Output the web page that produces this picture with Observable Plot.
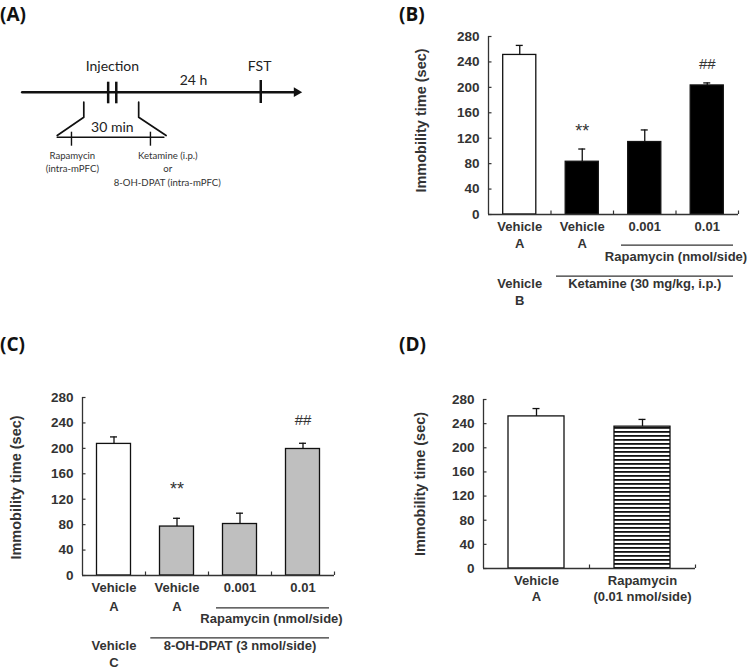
<!DOCTYPE html>
<html><head><meta charset="utf-8">
<script src="https://cdn.jsdelivr.net/npm/d3@7"></script>
<script src="https://cdn.jsdelivr.net/npm/@observablehq/plot@0.6"></script>
<style>
body{margin:0;background:#fff}
#fig{position:relative;width:752px;height:671px;background:#fff;overflow:hidden}
.panel{position:absolute}
.plabel{position:absolute;font-family:"Open Sans",sans-serif;font-weight:bold;font-size:19px;color:#111;line-height:1}
</style></head><body>
<svg width="0" height="0" style="position:absolute"><defs>
<pattern id="hstripes" patternUnits="userSpaceOnUse" width="8" height="4"><rect width="8" height="4" fill="#ffffff"/><rect width="8" height="1.8" fill="#111111"/></pattern>
</defs></svg>
<div id="fig"></div>
<script>
// ---------- data ----------
const yTicks = [0, 40, 80, 120, 160, 200, 240, 280];
const yTitle = "Immobility time (sec)";

// Panel B
const meansB = [251, 83, 114, 203];
const semsB = [15, 20, 19, 4];
const fillsB = ["#ffffff", "#000000", "#000000", "#000000"];
const line1B = ["Vehicle", "Vehicle", "0.001", "0.01"];
const line2B = ["A", "A", "", ""];
const sigB = ["", "**", "", "##"];
const groupsB = [
  {text: "Rapamycin (nmol/side)", from: 2, to: 4, level: 0},
  {text: "Ketamine (30 mg/kg, i.p.)", from: 1, to: 4, level: 1}
];
const baseB = ["Vehicle", "B"];

// Panel C
const meansC = [207, 77, 81, 199];
const semsC = [11, 13, 17, 9];
const fillsC = ["#ffffff", "#bfbfbf", "#bfbfbf", "#bfbfbf"];
const line1C = ["Vehicle", "Vehicle", "0.001", "0.01"];
const line2C = ["A", "A", "", ""];
const sigC = ["", "**", "", "##"];
const groupsC = [
  {text: "Rapamycin (nmol/side)", from: 2, to: 4, level: 0},
  {text: "8-OH-DPAT (3 nmol/side)", from: 1, to: 4, level: 1}
];
const baseC = ["Vehicle", "C"];

// Panel D
const meansD = [252, 235];
const semsD = [13, 12];
const fillsD = ["#ffffff", "url(#hstripes)"];
const line1D = ["Vehicle", "Rapamycin"];
const line2D = ["A", "(0.01 nmol/side)"];

// Panel A (schematic, timeline units)
const mainAxis = [{x: 0, y: 0}, {x: 97, y: 0}];
const arrowHead = [{x: 98, y: 0}];
const injectionTicks = [30.7, 33.6];
const fstTick = [85.2];
const brackets = [
  {id: "L", x: 22, y: 10}, {id: "L", x: 22, y: 25}, {id: "L", x: 12.5, y: 43.3},
  {id: "R", x: 41.6, y: 10}, {id: "R", x: 41.6, y: 25}, {id: "R", x: 51.4, y: 43.3}
];
const intervalLine = [{x: 12.5, y: 45}, {x: 50.6, y: 45}];
const intervalTicks = [17.6, 45.8];
const bigLabels = [
  {text: "Injection", x: 32.2, y: -26},
  {text: "FST", x: 84.8, y: -26},
  {text: "24 h", x: 61.2, y: -11.5},
  {text: "30 min", x: 32.2, y: 35}
];
const smallLabels = [
  {text: "Rapamycin", x: 17.9, y: 63.3},
  {text: "(intra-mPFC)", x: 17.9, y: 76.6},
  {text: "Ketamine (i.p.)", x: 52, y: 63.3},
  {text: "or", x: 52, y: 76.6},
  {text: "8-OH-DPAT (intra-mPFC)", x: 51.8, y: 91}
];

// ---------- drawing ----------
const fig = document.getElementById("fig");
const chartFont = {fontFamily: "'Liberation Sans', Arial, sans-serif", fontSize: "13px", fontWeight: "bold", color: "#333", background: "none", overflow: "visible"};

function place(el, left, top) {
  const d = document.createElement("div");
  d.className = "panel";
  d.style.left = left + "px";
  d.style.top = top + "px";
  d.appendChild(el);
  fig.appendChild(d);
}
function panelLabel(text, left, top) {
  const d = document.createElement("div");
  d.className = "plabel";
  d.style.left = left + "px";
  d.style.top = top + "px";
  d.textContent = text;
  fig.appendChild(d);
}

const sigStyle = {"**": {size: 18, dy: 0}, "##": {size: 15, dy: 0}};

function barPanel(o) {
  const n = o.means.length, idx = d3.range(n);
  const marks = [
    Plot.rect(idx, {x1: i => i, x2: i => i + 1, y1: 0, y2: i => o.means[i], fill: i => o.fills[i], stroke: "#111", strokeWidth: 1.3, insetLeft: o.inset, insetRight: o.inset}),
    Plot.ruleX(idx, {x: i => i + 0.5, y1: i => o.means[i], y2: i => o.means[i] + o.sems[i], stroke: "#111", strokeWidth: 1.3}),
    Plot.ruleY(idx, {y: i => o.means[i] + o.sems[i], x1: i => i + 0.5, x2: i => i + 0.5, insetLeft: -3.5, insetRight: -3.5, stroke: "#111", strokeWidth: 1.3}),
    Plot.ruleX([0], {stroke: "#333", strokeWidth: 1.3}),
    Plot.ruleY([0], {stroke: "#333", strokeWidth: 1.3}),
    Plot.ruleY(yTicks, {y: d => d, x1: 0, x2: 0, insetRight: -3.5, stroke: "#333", strokeWidth: 1.2}),
    Plot.ruleX(d3.range(1, n + 1), {x: d => d, y1: 0, y2: 0, insetTop: -3.5, stroke: "#333", strokeWidth: 1.2}),
    Plot.text(yTicks, {y: d => d, text: d => String(d), frameAnchor: "left", textAnchor: "end", dx: -9, fontSize: 13.5}),
    Plot.text([yTitle], {frameAnchor: "left", textAnchor: "middle", rotate: -90, dx: -o.titleDx, dy: o.titleDy, fontSize: 14.5}),
    Plot.text(idx, {x: i => i + 0.5, text: i => o.line1[i], frameAnchor: "bottom", dy: o.l1dy}),
    Plot.text(idx, {x: i => i + 0.5, text: i => o.line2[i], frameAnchor: "bottom", dy: o.l2dy})
  ];
  if (o.sig) {
    o.sigKinds.forEach((kind, k) => {
      const ii = idx.filter(i => o.sig[i] === kind);
      marks.push(Plot.text(ii, {x: i => i + 0.5, y: i => o.means[i] + o.sems[i], text: i => o.sig[i], dy: o.sigDy[k], fontWeight: "normal", fontSize: sigStyle[kind].size, fill: "#333"}));
    });
  }
  if (o.groups) {
    o.levels.forEach((lv, k) => {
      const g = o.groups.filter(d => d.level === k);
      marks.push(Plot.ruleY(g, {y: () => 0, x1: d => d.from, x2: d => d.to, insetLeft: lv.insetLeft, insetRight: 5, dy: lv.lineDy, stroke: "#333", strokeWidth: 1.2}));
      marks.push(Plot.text(g, {x: d => (d.from + d.to) / 2, text: "text", frameAnchor: "bottom", dy: lv.textDy}));
    });
    marks.push(Plot.text([o.base[0]], {x: 0.5, frameAnchor: "bottom", dy: o.baseDy[0]}));
    marks.push(Plot.text([o.base[1]], {x: 0.5, frameAnchor: "bottom", dy: o.baseDy[1]}));
  }
  return Plot.plot({
    width: o.width, height: o.height,
    marginLeft: 80, marginTop: 16, marginRight: o.marginRight, marginBottom: o.marginBottom,
    x: {domain: [0, n], axis: null},
    y: {domain: [0, 280], axis: null},
    color: {type: "identity"},
    style: chartFont,
    marks
  });
}

// Panel A
const schematic = Plot.plot({
  width: 376, height: 200, margin: 0,
  x: {domain: [0, 100], range: [21.7, 301.7], axis: null},
  y: {domain: [-30, 100], range: [61.7, 191.7], axis: null},
  style: {fontFamily: "Lato, 'Open Sans', sans-serif", background: "none", color: "#222", overflow: "visible"},
  marks: [
    Plot.line(mainAxis, {x: "x", y: "y", stroke: "#111", strokeWidth: 2.5}),
    Plot.dot(arrowHead, {x: "x", y: "y", symbol: "triangle", rotate: 90, r: 3.6, fill: "#111", stroke: "none"}),
    Plot.ruleX(injectionTicks, {x: d => d, y1: -10, y2: 11.6, stroke: "#111", strokeWidth: 2.5}),
    Plot.ruleX(fstTick, {x: d => d, y1: -11.7, y2: 11.3, stroke: "#111", strokeWidth: 2.5}),
    Plot.line(brackets, {x: "x", y: "y", z: "id", stroke: "#111", strokeWidth: 1.7}),
    Plot.line(intervalLine, {x: "x", y: "y", stroke: "#111", strokeWidth: 1.5}),
    Plot.ruleX(intervalTicks, {x: d => d, y1: 40, y2: 54, stroke: "#111", strokeWidth: 1.4}),
    Plot.text(bigLabels, {x: "x", y: "y", text: "text", fontSize: 14, fill: "#222"}),
    Plot.text(smallLabels, {x: "x", y: "y", text: "text", fontSize: 9.6, fill: "#333"})
  ]
});
place(schematic, 0, 0);
panelLabel("(A)", 0, 5);

place(barPanel({
  means: meansB, sems: semsB, fills: fillsB, line1: line1B, line2: line2B,
  sig: sigB, sigKinds: ["**", "##"], sigDy: [-18, -19],
  groups: groupsB, levels: [{lineDy: 30.6, textDy: 46.3, insetLeft: 8}, {lineDy: 61.6, textDy: 73.6, insetLeft: 5.5}],
  base: baseB, baseDy: [73, 90],
  width: 342, height: 294, marginRight: 12, marginBottom: 100,
  inset: 14.7, l1dy: 16.5, l2dy: 33, titleDx: 67, titleDy: -5
}), 408, 20);
panelLabel("(B)", 399, 5);

place(barPanel({
  means: meansC, sems: semsC, fills: fillsC, line1: line1C, line2: line2C,
  sig: sigC, sigKinds: ["**", "##"], sigDy: [-29, -23],
  groups: groupsC, levels: [{lineDy: 32.3, textDy: 47.7, insetLeft: 8}, {lineDy: 62.3, textDy: 74.3, insetLeft: 5.3}],
  base: baseC, baseDy: [74, 91],
  width: 364, height: 290, marginRight: 32, marginBottom: 96,
  inset: 14.5, l1dy: 16.7, l2dy: 35, titleDx: 66, titleDy: 1
}), 2, 381);
panelLabel("(C)", 0, 335);

place(barPanel({
  means: meansD, sems: semsD, fills: fillsD, line1: line1D, line2: line2D,
  width: 330, height: 250, marginRight: 38, marginBottom: 65,
  inset: 25, l1dy: 16, l2dy: 32.7, titleDx: 63, titleDy: 0
}), 403, 383);
panelLabel("(D)", 399, 335);
</script>
</body></html>
